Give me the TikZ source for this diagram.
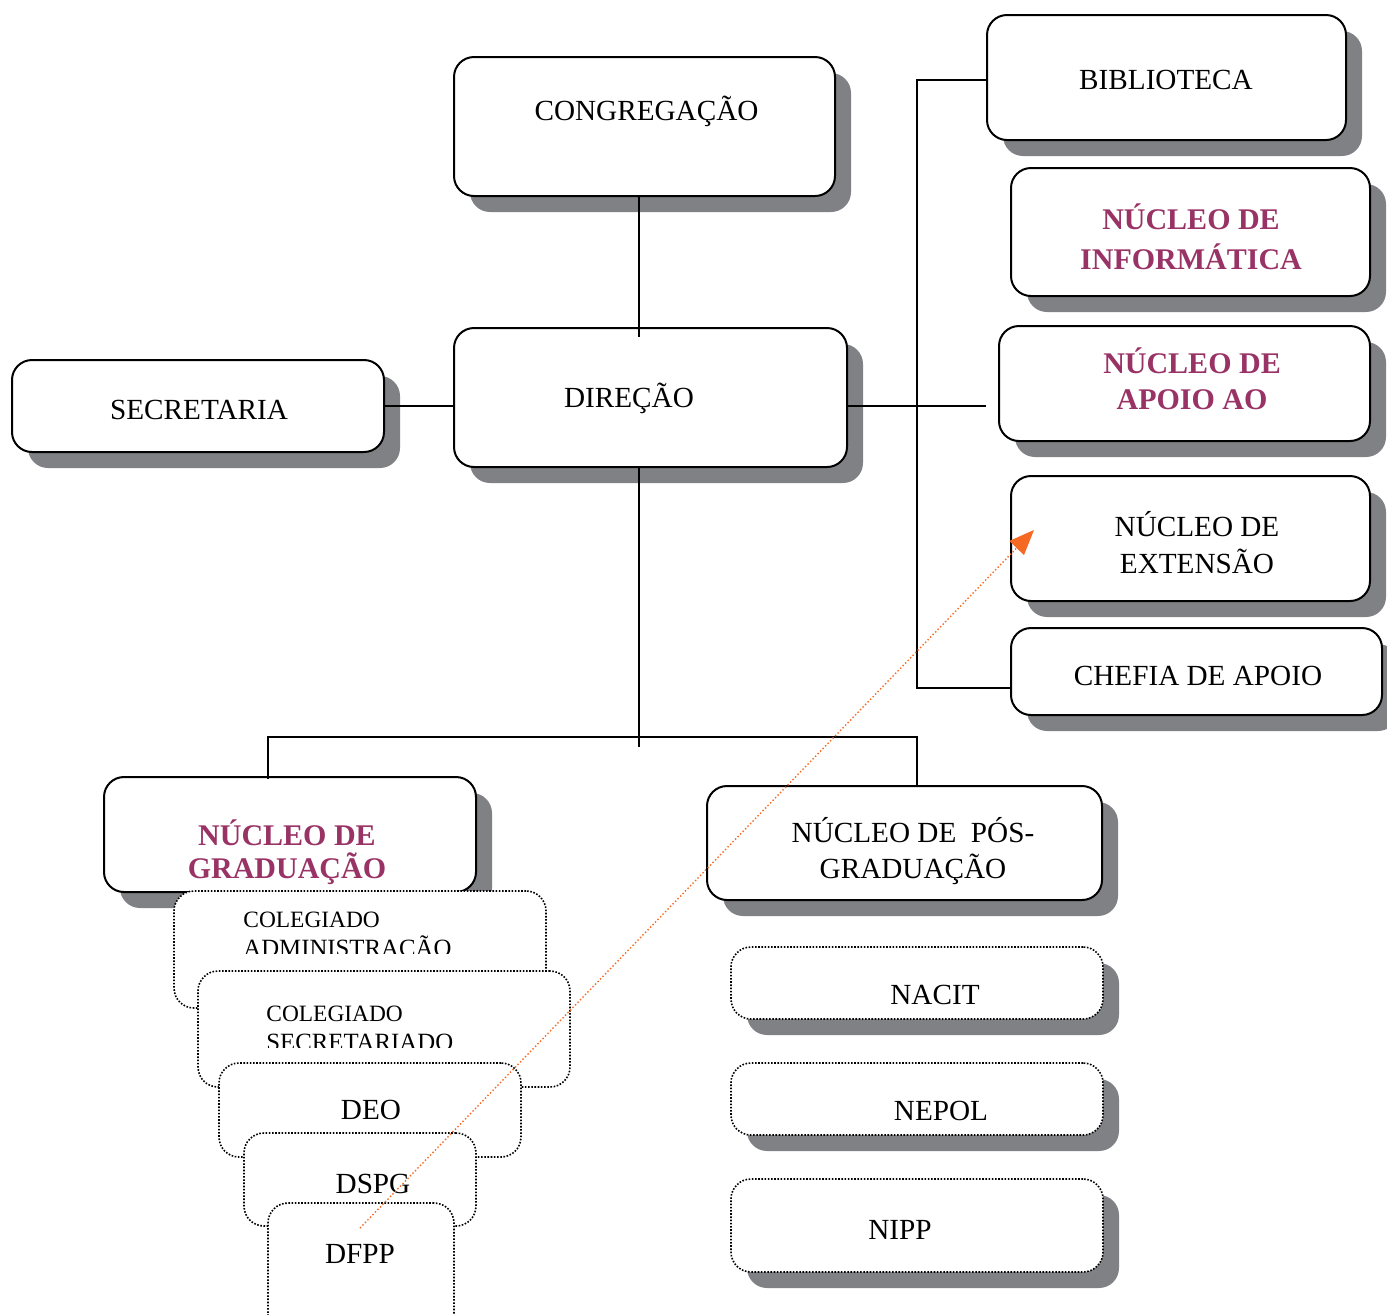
\documentclass[tikz,border=0pt]{standalone}
\usepackage{fontspec}
\setmainfont{Liberation Serif}
\usetikzlibrary{shadows,arrows.meta,calc}
\definecolor{shadegray}{RGB}{128,129,133}
\definecolor{plum}{RGB}{153,51,102}
\definecolor{flame}{RGB}{245,105,35}
\begin{document}
\begin{tikzpicture}[x=0.5pt,y=-0.5pt,
  wh/.style 2 args={minimum width=#1*0.5pt, minimum height=#2*0.5pt},
  boxshadow/.style={drop shadow={shadow xshift=8pt,shadow yshift=-8pt,fill=shadegray,opacity=1}},
  box/.style={draw=black,line width=1pt,rounded corners=10pt,fill=white,inner sep=0pt,boxshadow},
  dotbox/.style={draw=black,line width=0.8pt,dash pattern=on 0.8pt off 0.8pt,rounded corners=10pt,fill=white,inner sep=0pt},
  txt/.style={inner sep=0pt,align=center,font=\fontsize{14.6}{18}\selectfont},
  boldtxt/.style={inner sep=0pt,align=center,text=plum,font=\fontsize{15}{#1}\selectfont\bfseries},
  smalltxt/.style={inner sep=0pt,align=left,anchor=west,font=\fontsize{11.7}{14.5}\selectfont},
  conn/.style={draw=black,line width=0.8pt},
  pointer/.style={draw=flame,line width=0.7pt,dash pattern=on 0.7pt off 1.1pt,
    -{Triangle[length=12.5pt,width=10pt]}},
]
\clip (0,0) rectangle (1387,1314);

% upper level
\node[box,wh={381}{139}] (congr) at (644.5,126.5) {};
\node[box,wh={393}{139}] (dir) at (650.5,397.5) {};
\node[box,wh={372}{92}] (secr) at (198,406) {};

% right column
\node[box,wh={359}{125}] (bib) at (1166.5,77.5) {};
\node[box,wh={359}{128}] (info) at (1190.5,232) {};
\node[box,wh={371}{115}] (apoio) at (1184.5,383.5) {};
\node[box,wh={359}{125}] (ext) at (1190.5,538.5) {};
\node[box,wh={371}{87}] (chefia) at (1196.5,671.5) {};

% lower level
\node[box,wh={372}{115}] (grad) at (290,834.5) {};
\node[box,wh={395}{114}] (pos) at (904.5,843) {};

% stacked units under graduacao
\node[dotbox,wh={372}{117}] (coladm) at (360,949.5) {};
\begin{scope}
  \clip (174,891) rectangle (546,953);
  \node[smalltxt] (coladm-t) at (243,937) {COLEGIADO\\{\fontsize{12.4}{14.5}\selectfont ADMINISTRAÇÃO}};
\end{scope}
\node[dotbox,wh={372}{116}] (colsec) at (384,1029) {};
\begin{scope}
  \clip (198,971) rectangle (570,1047);
  \node[smalltxt] (colsec-t) at (266,1028) {COLEGIADO\\{\fontsize{12.4}{14.5}\selectfont SECRETARIADO}};
\end{scope}
\node[dotbox,wh={302}{94}] (deo) at (370,1110) {};
\node[txt] (deo-t) at (371,1110) {DEO};
\node[dotbox,wh={232}{93}] (dspg) at (360,1179.5) {};
\node[txt] (dspg-t) at (373,1184) {DSPG};
\node[dotbox,wh={186}{137}] (dfpp) at (361,1271.5) {};
\node[txt] (dfpp-t) at (360,1254) {DFPP};

% units under pos-graduacao
\node[dotbox,boxshadow,wh={372}{72}] (nacit) at (917,983) {};
\node[dotbox,boxshadow,wh={372}{72}] (nepol) at (917,1099) {};
\node[dotbox,boxshadow,wh={372}{93}] (nipp) at (917,1225.5) {};

% labels
\node[txt] (congr-t) at (646.5,111.5) {CONGREGAÇÃO};
\node[txt] (dir-t) at (629,398) {DIREÇÃO};
\node[txt] (secr-t) at (199,410) {SECRETARIA};
\node[txt] (bib-t) at (1166,80) {BIBLIOTECA};
\node[boldtxt=20] (info-t) at (1191,237) {NÚCLEO DE\\INFORMÁTICA};
\node[boldtxt=18] (apoio-t) at (1192,379) {NÚCLEO DE\\APOIO AO};
\node[txt,font=\fontsize{14.6}{18.5}\selectfont] (ext-t) at (1197,542.5) {NÚCLEO DE\\EXTENSÃO};
\node[txt] (chefia-t) at (1198,676) {CHEFIA DE APOIO};
\node[boldtxt=16.5] (grad-t) at (287,852.5) {NÚCLEO DE\\GRADUAÇÃO};
\node[txt] (pos-t) at (913,851) {NÚCLEO DE~~PÓS-\\GRADUAÇÃO};
\node[txt] (nacit-t) at (935,995) {NACIT};
\node[txt] (nepol-t) at (941,1111) {NEPOL};
\node[txt] (nipp-t) at (900,1230) {NIPP};

% connectors
\coordinate (trunk) at (639,747);
\coordinate (bus) at (917,406);
\coordinate (hl) at (268,737);
\coordinate (hr) at (917,737);
\draw[conn] (congr.south -| trunk) -- ($(dir.north -| trunk)+(0,10)$);
\draw[conn] (secr.east |- bus) -- (dir.west |- bus);
\draw[conn] (dir.east |- bus) -- (bib.west |- bus);
\draw[conn] ($(bib.west)+(0,2.5)$) -- ($(bib.west -| bus)+(0,2.5)$)
  -- ($(chefia.west -| bus)+(0,16.5)$) -- ($(chefia.west)+(0,16.5)$);
\draw[conn] (dir.south -| trunk) -- (trunk);
\draw[conn] ($(grad.north -| hl)+(0,3)$) -- (hl) -- (hr) -- (pos.north -| hr);

% highlighted pointer
\coordinate (arrs) at (360,1228);
\coordinate (arre) at (1034,530);
\draw[pointer] (arrs) -- (arre);
\end{tikzpicture}
\end{document}
